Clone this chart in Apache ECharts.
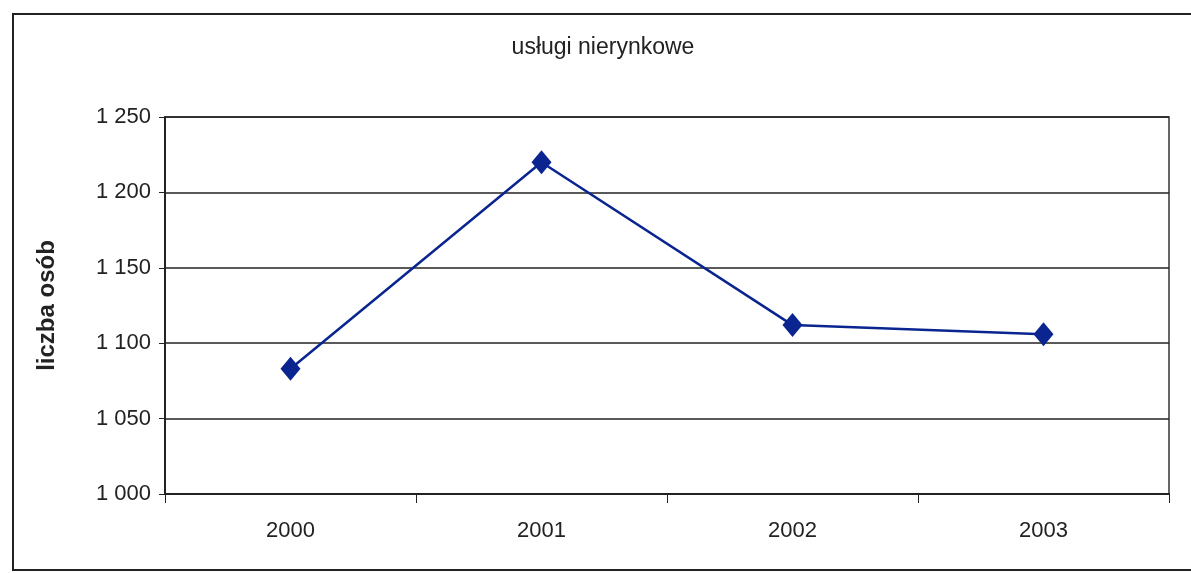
<!DOCTYPE html>
<html>
<head>
<meta charset="utf-8">
<script src="https://cdn.jsdelivr.net/npm/echarts@6/dist/echarts.min.js"></script>
<style>
  html, body { margin: 0; padding: 0; background: #fff; }
  #chart { width: 1191px; height: 573px; }
</style>
</head>
<body>
<div id="chart"></div>
<script>
const years = ['2000', '2001', '2002', '2003']
const persons = [1083, 1220, 1112, 1106]
const titleText = 'usługi nierynkowe'
const yAxisName = 'liczba osób'

const fmt = (v) => {
  const s = String(v)
  return s.length > 3 ? s.slice(0, s.length - 3) + ' ' + s.slice(-3) : s
}

const chart = echarts.init(document.getElementById('chart'))

const option = {
  animation: false,
  backgroundColor: '#fff',
  textStyle: { fontFamily: 'Liberation Sans, Arial, sans-serif' },
  title: {
    text: titleText,
    left: 598,
    textAlign: 'center',
    top: 31,
    textStyle: { fontSize: 23, fontWeight: 'normal', color: '#222' }
  },
  graphic: [{
    type: 'rect',
    shape: { x: 13, y: 14, width: 1200, height: 556 },
    style: { fill: 'none', stroke: '#222', lineWidth: 2 },
    silent: true
  }],
  grid: {
    left: 165, right: 22, top: 117, bottom: 79,
    show: true, borderColor: '#333', borderWidth: 1.5
  },
  xAxis: {
    type: 'category',
    data: years,
    boundaryGap: true,
    axisLine: { lineStyle: { color: '#222', width: 2 } },
    axisTick: { show: true, alignWithLabel: false, length: 9, lineStyle: { color: '#222' } },
    axisLabel: { fontSize: 22, color: '#222', margin: 26 }
  },
  yAxis: {
    type: 'value',
    min: 1000,
    max: 1250,
    interval: 50,
    name: yAxisName,
    nameLocation: 'middle',
    nameGap: 106,
    nameTextStyle: { fontSize: 24, fontWeight: 'bold', color: '#222' },
    axisLine: { show: true, lineStyle: { color: '#222', width: 2 } },
    axisTick: { show: true, length: 6, lineStyle: { color: '#222' } },
    axisLabel: { fontSize: 22, color: '#222', margin: 14, formatter: fmt },
    splitLine: { lineStyle: { color: '#222', width: 1.5 } }
  },
  series: [{
    type: 'line',
    data: persons,
    symbol: 'diamond',
    symbolSize: [20, 24],
    lineStyle: { color: '#0a2590', width: 2.5 },
    itemStyle: { color: '#0a2590' }
  }]
}

chart.setOption(option)
</script>
</body>
</html>
